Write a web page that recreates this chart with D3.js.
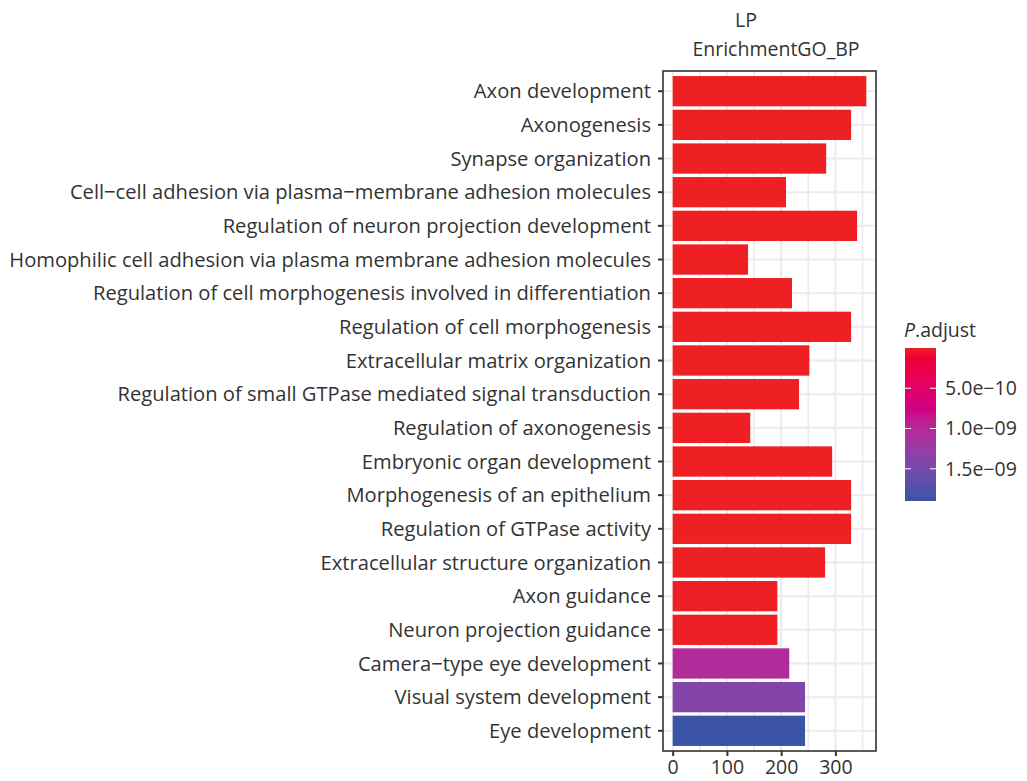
<!DOCTYPE html>
<html>
<head>
<meta charset="utf-8">
<script src="https://cdn.jsdelivr.net/npm/d3@7"></script>
<style>
  body { margin: 0; background: #fff; }
  svg { display: block; }
  text { font-family: "Open Sans", "Noto Sans", sans-serif; fill: #333; }
</style>
</head>
<body>
<svg id="chart" width="1027" height="781"></svg>
<script>
// GO biological process terms, listed top to bottom
const terms = [
  "Axon development",
  "Axonogenesis",
  "Synapse organization",
  "Cell\u2212cell adhesion via plasma\u2212membrane adhesion molecules",
  "Regulation of neuron projection development",
  "Homophilic cell adhesion via plasma membrane adhesion molecules",
  "Regulation of cell morphogenesis involved in differentiation",
  "Regulation of cell morphogenesis",
  "Extracellular matrix organization",
  "Regulation of small GTPase mediated signal transduction",
  "Regulation of axonogenesis",
  "Embryonic organ development",
  "Morphogenesis of an epithelium",
  "Regulation of GTPase activity",
  "Extracellular structure organization",
  "Axon guidance",
  "Neuron projection guidance",
  "Camera\u2212type eye development",
  "Visual system development",
  "Eye development"
];

// gene counts per term
const geneCounts = [357, 329, 283, 209, 340, 139, 220, 329, 252, 233,
                    143, 294, 329, 329, 281, 193, 193, 215, 244, 244];

// adjusted p-values per term
const pAdjust = [2e-21, 5e-19, 3e-17, 8e-16, 1e-15, 4e-15, 2e-14, 6e-14, 1e-13, 2e-13,
                 4e-13, 6e-13, 8e-13, 1e-12, 2e-12, 4e-12, 5e-12, 1.05e-9, 1.4e-9, 1.9e-9];

const xTicks = [0, 100, 200, 300];
const xMinorTicks = [50, 150, 250, 350];
const legendTicks = [5e-10, 1e-9, 1.5e-9];
const legendTickLabels = ["5.0e\u221210", "1.0e\u221209", "1.5e\u221209"];
const titleLines = ["LP", "EnrichmentGO_BP"];

const svg = d3.select("#chart");

// panel geometry
const panel = { left: 663, right: 876, top: 71, bottom: 751 };

const maxCount = d3.max(geneCounts);
const x = d3.scaleLinear()
  .domain([-0.05 * maxCount, 1.05 * maxCount])
  .range([panel.left, panel.right]);

const y = d3.scaleBand()
  .domain(terms)
  .range([panel.top, panel.bottom])
  .paddingInner(0.1)
  .paddingOuter(0.15);

const color = d3.scaleLinear()
  .domain([d3.min(pAdjust), d3.max(pAdjust)])
  .range(["#EE2024", "#3A53A4"])
  .interpolate(d3.interpolateHcl);

// panel background and grid
const grid = svg.append("g");
grid.selectAll("line.minor").data(xMinorTicks).join("line")
  .attr("x1", d => x(d)).attr("x2", d => x(d))
  .attr("y1", panel.top).attr("y2", panel.bottom)
  .attr("stroke", "#EBEBEB").attr("stroke-width", 1.6);
grid.selectAll("line.majorx").data(xTicks).join("line")
  .attr("x1", d => x(d)).attr("x2", d => x(d))
  .attr("y1", panel.top).attr("y2", panel.bottom)
  .attr("stroke", "#EBEBEB").attr("stroke-width", 2);
grid.selectAll("line.majory").data(terms).join("line")
  .attr("x1", panel.left).attr("x2", panel.right)
  .attr("y1", d => y(d) + y.bandwidth() / 2).attr("y2", d => y(d) + y.bandwidth() / 2)
  .attr("stroke", "#EBEBEB").attr("stroke-width", 2);

// bars
svg.append("g").selectAll("rect").data(terms).join("rect")
  .attr("x", x(0))
  .attr("y", d => y(d))
  .attr("width", (d, i) => x(geneCounts[i]) - x(0))
  .attr("height", y.bandwidth())
  .attr("fill", (d, i) => color(pAdjust[i]));

// panel border
svg.append("rect")
  .attr("x", panel.left).attr("y", panel.top)
  .attr("width", panel.right - panel.left).attr("height", panel.bottom - panel.top)
  .attr("fill", "none").attr("stroke", "#333").attr("stroke-width", 1.6);

// y axis
const yAxis = svg.append("g")
  .attr("transform", `translate(${panel.left},0)`)
  .call(d3.axisLeft(y).tickSize(5).tickPadding(7));
yAxis.select(".domain").remove();
yAxis.selectAll(".tick line").attr("stroke", "#333").attr("stroke-width", 2);
yAxis.selectAll(".tick text")
  .attr("font-family", null).attr("fill", "#333");

// scale the label font so the longest term spans the available width
let labelSize = 20;
yAxis.selectAll(".tick text").attr("font-size", labelSize);
const longest = d3.max(yAxis.selectAll(".tick text").nodes(), n => n.getComputedTextLength());
labelSize = Math.min(20.5, labelSize * 642 / longest);
yAxis.selectAll(".tick text").attr("font-size", labelSize).attr("dy", "0.35em");

// x axis
const xAxis = svg.append("g")
  .attr("transform", `translate(0,${panel.bottom})`)
  .call(d3.axisBottom(x).tickValues(xTicks).tickSize(5).tickPadding(4));
xAxis.select(".domain").remove();
xAxis.selectAll(".tick line").attr("stroke", "#333").attr("stroke-width", 2);
xAxis.selectAll(".tick text")
  .attr("font-family", null).attr("fill", "#333").attr("font-size", 19.5);

// title
svg.append("text").attr("x", 746).attr("y", 27)
  .attr("text-anchor", "middle").attr("font-size", 19.5).text(titleLines[0]);
svg.append("text").attr("x", 776).attr("y", 56)
  .attr("text-anchor", "middle").attr("font-size", 19.5).text(titleLines[1]);

// colour legend
const legend = { x: 905, y: 348, w: 31, h: 153 };
const legendScale = d3.scaleLinear()
  .domain([d3.min(pAdjust), d3.max(pAdjust)])
  .range([legend.y, legend.y + legend.h]);

const defs = svg.append("defs");
const grad = defs.append("linearGradient")
  .attr("id", "padj-grad").attr("x1", 0).attr("x2", 0).attr("y1", 0).attr("y2", 1);
d3.range(0, 1.0001, 0.02).forEach(t => {
  grad.append("stop")
    .attr("offset", t)
    .attr("stop-color", color(color.domain()[0] + t * (color.domain()[1] - color.domain()[0])));
});

svg.append("rect")
  .attr("x", legend.x).attr("y", legend.y)
  .attr("width", legend.w).attr("height", legend.h)
  .attr("fill", "url(#padj-grad)");

const lt = svg.append("g");
legendTicks.forEach((v, i) => {
  const ty = legendScale(v);
  lt.append("line").attr("x1", legend.x).attr("x2", legend.x + 6)
    .attr("y1", ty).attr("y2", ty).attr("stroke", "#fff").attr("stroke-width", 1);
  lt.append("line").attr("x1", legend.x + legend.w - 6).attr("x2", legend.x + legend.w)
    .attr("y1", ty).attr("y2", ty).attr("stroke", "#fff").attr("stroke-width", 1);
  lt.append("text").attr("x", 945).attr("y", ty).attr("dy", "0.35em")
    .attr("font-size", 19.5).text(legendTickLabels[i]);
});

const legendTitle = svg.append("text").attr("x", 904).attr("y", 337).attr("font-size", 19.5);
legendTitle.append("tspan").attr("font-style", "italic").text("P");
legendTitle.append("tspan").text(".adjust");
</script>
</body>
</html>
